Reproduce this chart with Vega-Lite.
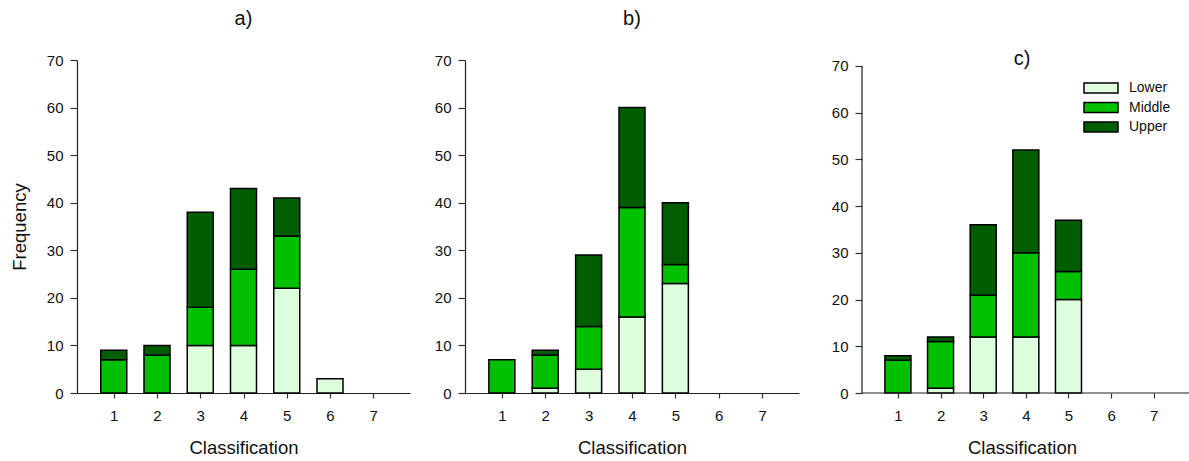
{
  "$schema": "https://vega.github.io/schema/vega-lite/v6.json",
  "padding": {"left": 10, "top": 9, "right": 0, "bottom": 0},
  "bounds": "flush",
  "spacing": 55,
  "resolve": {"scale": {"color": "independent"}, "legend": {"color": "independent"}},
  "config": {
    "font": "Liberation Sans",
    "view": {"stroke": null},
    "axis": {"grid": false, "domainColor": "#222", "domainWidth": 1.2, "tickColor": "#333", "tickWidth": 1.2, "labelColor": "#111", "titleColor": "#111", "labelFont": "Liberation Sans", "titleFont": "Liberation Sans", "labelFontSize": 15, "titleFontSize": 18.5, "titleFontWeight": "normal"},
    "title": {"fontSize": 20, "fontWeight": "normal", "font": "Liberation Sans", "color": "#111", "offset": 24},
    "bar": {"stroke": "#000", "strokeWidth": 1.5}
  },
  "datasets": {
    "freq": [
      {"panel": "a", "class": 1, "group": "Middle", "count": 7},
      {"panel": "a", "class": 1, "group": "Upper", "count": 2},
      {"panel": "a", "class": 2, "group": "Middle", "count": 8},
      {"panel": "a", "class": 2, "group": "Upper", "count": 2},
      {"panel": "a", "class": 3, "group": "Lower", "count": 10},
      {"panel": "a", "class": 3, "group": "Middle", "count": 8},
      {"panel": "a", "class": 3, "group": "Upper", "count": 20},
      {"panel": "a", "class": 4, "group": "Lower", "count": 10},
      {"panel": "a", "class": 4, "group": "Middle", "count": 16},
      {"panel": "a", "class": 4, "group": "Upper", "count": 17},
      {"panel": "a", "class": 5, "group": "Lower", "count": 22},
      {"panel": "a", "class": 5, "group": "Middle", "count": 11},
      {"panel": "a", "class": 5, "group": "Upper", "count": 8},
      {"panel": "a", "class": 6, "group": "Lower", "count": 3},
      {"panel": "b", "class": 1, "group": "Middle", "count": 7},
      {"panel": "b", "class": 2, "group": "Lower", "count": 1},
      {"panel": "b", "class": 2, "group": "Middle", "count": 7},
      {"panel": "b", "class": 2, "group": "Upper", "count": 1},
      {"panel": "b", "class": 3, "group": "Lower", "count": 5},
      {"panel": "b", "class": 3, "group": "Middle", "count": 9},
      {"panel": "b", "class": 3, "group": "Upper", "count": 15},
      {"panel": "b", "class": 4, "group": "Lower", "count": 16},
      {"panel": "b", "class": 4, "group": "Middle", "count": 23},
      {"panel": "b", "class": 4, "group": "Upper", "count": 21},
      {"panel": "b", "class": 5, "group": "Lower", "count": 23},
      {"panel": "b", "class": 5, "group": "Middle", "count": 4},
      {"panel": "b", "class": 5, "group": "Upper", "count": 13},
      {"panel": "c", "class": 1, "group": "Middle", "count": 7},
      {"panel": "c", "class": 1, "group": "Upper", "count": 1},
      {"panel": "c", "class": 2, "group": "Lower", "count": 1},
      {"panel": "c", "class": 2, "group": "Middle", "count": 10},
      {"panel": "c", "class": 2, "group": "Upper", "count": 1},
      {"panel": "c", "class": 3, "group": "Lower", "count": 12},
      {"panel": "c", "class": 3, "group": "Middle", "count": 9},
      {"panel": "c", "class": 3, "group": "Upper", "count": 15},
      {"panel": "c", "class": 4, "group": "Lower", "count": 12},
      {"panel": "c", "class": 4, "group": "Middle", "count": 18},
      {"panel": "c", "class": 4, "group": "Upper", "count": 22},
      {"panel": "c", "class": 5, "group": "Lower", "count": 20},
      {"panel": "c", "class": 5, "group": "Middle", "count": 6},
      {"panel": "c", "class": 5, "group": "Upper", "count": 11}
    ]
  },
  "hconcat": [
    {
      "width": 333, "height": 333,
      "title": {"text": "a)"},
      "data": {"name": "freq"},
      "transform": [{"filter": "datum.panel == 'a'"}],
      "mark": {"type": "bar", "size": 26},
      "encoding": {
        "x": {"field": "class", "type": "quantitative", "scale": {"domain": [0.15, 7.85], "nice": false, "zero": false, "padding": 0},
              "axis": {"values": [1, 2, 3, 4, 5, 6, 7], "format": "d", "title": "Classification", "tickSize": 5, "labelPadding": 10, "titlePadding": 15}},
        "y": {"field": "count", "type": "quantitative", "stack": "zero", "scale": {"domain": [0, 70], "nice": false, "padding": 0},
              "axis": {"values": [0, 10, 20, 30, 40, 50, 60, 70], "title": "Frequency", "tickSize": 7, "labelPadding": 7, "titlePadding": 17}},
        "color": {"field": "group", "type": "nominal", "scale": {"domain": ["Lower", "Middle", "Upper"], "range": ["#DDFFDD", "#00C000", "#005E00"]}, "legend": null},
        "order": {"field": "group", "type": "nominal", "sort": "ascending"}
      }
    },
    {
      "width": 334, "height": 333,
      "title": {"text": "b)"},
      "data": {"name": "freq"},
      "transform": [{"filter": "datum.panel == 'b'"}],
      "mark": {"type": "bar", "size": 26},
      "encoding": {
        "x": {"field": "class", "type": "quantitative", "scale": {"domain": [0.15, 7.85], "nice": false, "zero": false, "padding": 0},
              "axis": {"values": [1, 2, 3, 4, 5, 6, 7], "format": "d", "title": "Classification", "tickSize": 5, "labelPadding": 10, "titlePadding": 15}},
        "y": {"field": "count", "type": "quantitative", "stack": "zero", "scale": {"domain": [0, 70], "nice": false, "padding": 0},
              "axis": {"values": [0, 10, 20, 30, 40, 50, 60, 70], "title": null, "tickSize": 7, "labelPadding": 7}},
        "color": {"field": "group", "type": "nominal", "scale": {"domain": ["Lower", "Middle", "Upper"], "range": ["#DDFFDD", "#00C000", "#005E00"]}, "legend": null},
        "order": {"field": "group", "type": "nominal", "sort": "ascending"}
      }
    },
    {
      "width": 336, "height": 333,
      "title": {"text": "c)", "dy": 34},
      "layer": [
        {
          "data": {"name": "freq"},
          "transform": [{"filter": "datum.panel == 'c'"}],
          "mark": {"type": "bar", "size": 26},
          "encoding": {
            "x": {"field": "class", "type": "quantitative", "scale": {"domain": [-0.03, 7.85], "nice": false, "zero": false, "padding": 0},
                  "axis": {"values": [1, 2, 3, 4, 5, 6, 7], "format": "d", "title": "Classification", "tickSize": 5, "labelPadding": 10, "titlePadding": 15, "domain": false}},
            "y": {"field": "count", "type": "quantitative", "stack": "zero", "scale": {"domain": [0, 71.28], "nice": false, "padding": 0},
                  "axis": {"values": [0, 10, 20, 30, 40, 50, 60, 70], "title": null, "tickSize": 7, "labelPadding": 7, "domain": false, "offset": -8}},
            "color": {"field": "group", "type": "nominal", "scale": {"domain": ["Lower", "Middle", "Upper"], "range": ["#DDFFDD", "#00C000", "#005E00"]},
                      "legend": {"orient": "none", "legendX": 240, "legendY": 21, "title": null, "padding": 0, "rowPadding": 3.5,
                                 "symbolType": "M-3.4,-1H3.4V1H-3.4Z", "symbolSize": 100, "symbolStrokeColor": "#000", "symbolStrokeWidth": 1.5,
                                 "labelFontSize": 14, "labelOffset": 21, "labelColor": "#111", "labelFont": "Liberation Sans"}},
            "order": {"field": "group", "type": "nominal", "sort": "ascending"}
          }
        },
        {
          "data": {"values": [{}]},
          "mark": {"type": "rule", "color": "#222", "strokeWidth": 1.2},
          "encoding": {
            "x": {"datum": 0.158, "type": "quantitative"},
            "y": {"datum": 0, "type": "quantitative"},
            "y2": {"datum": 70}
          }
        },
        {
          "data": {"values": [{}]},
          "mark": {"type": "rule", "color": "#222", "strokeWidth": 1.2},
          "encoding": {
            "x": {"datum": 0.158, "type": "quantitative"},
            "x2": {"datum": 7.85},
            "y": {"datum": 0, "type": "quantitative"}
          }
        }
      ]
    }
  ]
}
